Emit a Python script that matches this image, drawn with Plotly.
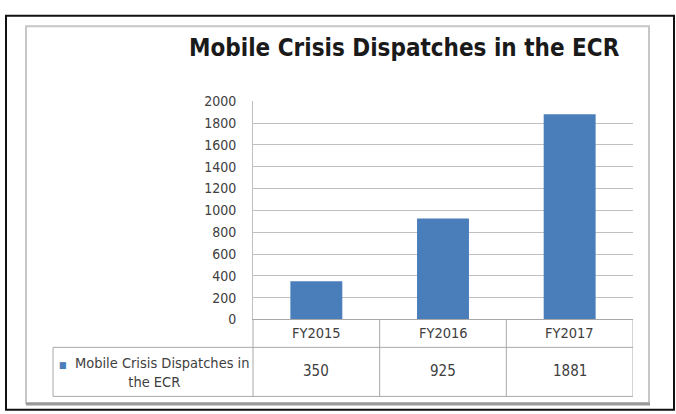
import plotly.graph_objects as go

categories = ["FY2015", "FY2016", "FY2017"]
values = [350, 925, 1881]
series_name = "Mobile Crisis Dispatches in the ECR"
title_text = "Mobile Crisis Dispatches in the ECR"
y_ticks = [0, 200, 400, 600, 800, 1000, 1200, 1400, 1600, 1800, 2000]

W, H = 676, 414
BAR = "#4a7ebb"
GRID = "#c0c0c0"
TABLE = "#a8a8a8"
TXT = "#404040"
FONT = "DejaVu Sans Condensed, Liberation Sans Narrow, sans-serif"

def px(x):
    return x / W

def py(y):
    return 1 - y / H

fig = go.Figure()
fig.add_trace(go.Bar(
    x=list(range(len(categories))), y=values, name=series_name,
    marker=dict(color=BAR, line=dict(width=0)), width=0.41,
    showlegend=False, hoverinfo="x+y",
))

plot_l, plot_r, plot_t, plot_b = 253, 633, 97, 324
row1_b, row2_b, leg_l = 353, 404, 53

shapes = []
# outer black frame
shapes.append(dict(type="rect", xref="paper", yref="paper", x0=px(6), x1=px(674), y0=py(418), y1=py(8),
                   line=dict(color="#111111", width=2)))
# inner grey chart frame
shapes.append(dict(type="rect", xref="paper", yref="paper", x0=px(26), x1=px(649), y0=py(411), y1=py(19),
                   line=dict(color="#c6c6c6", width=2)))
shapes.append(dict(type="line", xref="paper", yref="paper", x0=px(26), x1=px(650), y0=py(412), y1=py(412),
                   line=dict(color="#9a9a9a", width=3)))
# data table horizontal lines
shapes.append(dict(type="line", xref="paper", yref="paper", x0=px(leg_l), x1=px(plot_r), y0=py(row1_b), y1=py(row1_b),
                   line=dict(color=TABLE, width=1)))
shapes.append(dict(type="line", xref="paper", yref="paper", x0=px(leg_l), x1=px(plot_r), y0=py(row2_b), y1=py(row2_b),
                   line=dict(color=TABLE, width=1)))
shapes.append(dict(type="line", xref="paper", yref="paper", x0=px(leg_l), x1=px(leg_l), y0=py(row1_b), y1=py(row2_b),
                   line=dict(color=TABLE, width=1)))
shapes.append(dict(type="line", xref="paper", yref="paper", x0=px(plot_l), x1=px(plot_l), y0=py(plot_b), y1=py(row2_b),
                   line=dict(color=TABLE, width=1)))
# category separators through the table, in axis coordinates
for i in range(len(categories)):
    shapes.append(dict(type="line", xref="x", yref="paper", x0=i + 0.5, x1=i + 0.5, y0=py(plot_b), y1=py(row2_b),
                       line=dict(color=TABLE, width=1)))

annotations = []
annotations.append(dict(text="<b>" + title_text + "</b>", xref="paper", yref="paper", x=px(404), y=py(42),
                        xanchor="center", yanchor="middle", showarrow=False,
                        font=dict(family=FONT, size=24, color="#1a1a1a")))
for i, (c, v) in enumerate(zip(categories, values)):
    annotations.append(dict(text=c, xref="x", yref="paper", x=i, y=py(338), xanchor="center", yanchor="middle",
                            showarrow=False, font=dict(family=FONT, size=14.5, color=TXT)))
    annotations.append(dict(text=str(v), xref="x", yref="paper", x=i, y=py(378), xanchor="center", yanchor="middle",
                            showarrow=False, font=dict(family=FONT, size=15, color=TXT)))
words = series_name.split(" ")
leg_text = ('<span style="color:%s;font-size:9px">■</span>  ' % BAR) + " ".join(words[:-2]) + "<br>" + " ".join(words[-2:])
annotations.append(dict(text=leg_text, xref="paper", yref="paper", x=px(154), y=py(379), xanchor="center",
                        yanchor="middle", align="center", showarrow=False,
                        font=dict(family=FONT, size=14.5, color=TXT)))

fig.update_layout(
    width=W, height=H, margin=dict(l=0, r=0, t=0, b=0),
    paper_bgcolor="white", plot_bgcolor="white",
    shapes=shapes, annotations=annotations,
    xaxis=dict(domain=[px(plot_l), px(plot_r)], range=[-0.5, 2.5], showticklabels=False,
               showgrid=False, zeroline=False, showline=True, linecolor=TABLE, linewidth=1,
               fixedrange=True),
    yaxis=dict(domain=[py(plot_b), py(plot_t)], range=[0, 2000], tickvals=y_ticks,
               showgrid=True, gridcolor=GRID, gridwidth=1, zeroline=False,
               showline=True, linecolor=GRID, linewidth=1, ticks="",
               ticklabelstandoff=13, tickfont=dict(family=FONT, size=14, color=TXT), fixedrange=True),
    bargap=0.59,
)

fig.write_html("out.html")
